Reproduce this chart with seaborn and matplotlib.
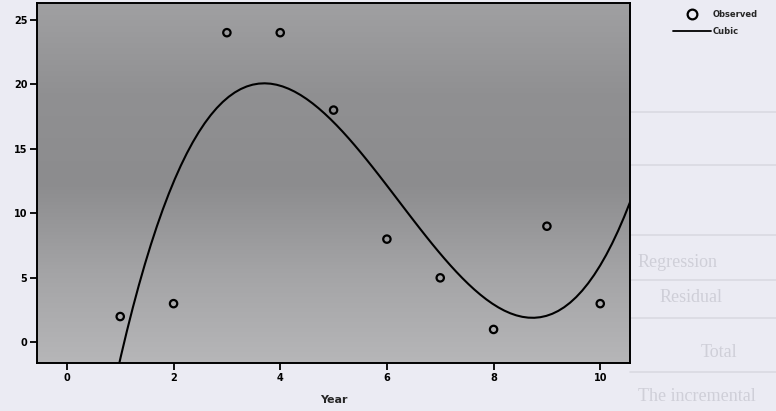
import numpy as np
import pandas as pd
import matplotlib
matplotlib.use("Agg")
import matplotlib.pyplot as plt
from matplotlib.lines import Line2D
from matplotlib.colors import LinearSegmentedColormap
import seaborn as sns

# Data
years = [1, 2, 3, 4, 5, 6, 7, 8, 9, 10]
observed = [2, 3, 24, 24, 18, 8, 5, 1, 9, 3]
x_ticks = [0, 2, 4, 6, 8, 10]
y_ticks = [0, 5, 10, 15, 20, 25]
legend_labels = ["Observed", "Cubic"]
ghost_texts = ["Regression", "Residual", "Total", "The incremental"]

df = pd.DataFrame({"Year": years, "Value": observed})

sns.set_style("ticks")
plt.rcParams["font.family"] = ["DejaVu Sans"]

fig = plt.figure(figsize=(7.76, 4.11), dpi=100, facecolor="#ebebf3")

# faint bleed-through of the printed page behind the chart
ghost_pos = [(0.822, 0.362), (0.85, 0.277), (0.903, 0.143), (0.822, 0.035)]
for txt, (gx, gy) in zip(ghost_texts, ghost_pos):
    fig.text(gx, gy, txt, fontsize=13, color="#cfcfd8",
             family=["Liberation Serif"], va="center", ha="left", zorder=0)
for gy in [0.728, 0.598, 0.428, 0.318, 0.226, 0.095]:
    fig.add_artist(Line2D([0.812, 1.0], [gy, gy], color="#d9d9e2", lw=1.2,
                          transform=fig.transFigure, zorder=0))

ax = fig.add_axes([0.0477, 0.1168, 0.7643, 0.8759])

xlim = (-0.56, 10.56)
ylim = (-1.6, 26.3)
ax.set_xlim(*xlim)
ax.set_ylim(*ylim)

# scanned grey background with darker middle band
cmap = LinearSegmentedColormap.from_list(
    "scan", ["#b6b6b8", "#a4a4a6", "#8c8c8e", "#909092", "#a0a0a2"])
grad = np.linspace(0, 1, 256).reshape(-1, 1)
ax.imshow(grad, cmap=cmap, aspect="auto", extent=[0, 1, 0, 1],
          transform=ax.transAxes, zorder=0, origin="lower")

sns.regplot(data=df, x="Year", y="Value", order=3, ci=None, scatter=False,
            truncate=False, ax=ax, line_kws={"color": "black", "lw": 1.5})
sns.scatterplot(data=df, x="Year", y="Value", ax=ax, s=28, marker="o",
                facecolors="none", edgecolor="black", linewidth=1.6, zorder=5)

ax.set_xlim(*xlim)
ax.set_ylim(*ylim)
ax.set_xticks(x_ticks)
ax.set_yticks(y_ticks)
ax.set_xticklabels([str(t) for t in x_ticks], fontsize=7, fontweight="bold")
ax.set_yticklabels([str(t) for t in y_ticks], fontsize=7, fontweight="bold")
ax.tick_params(axis="both", direction="out", length=5, width=1.3, pad=2, colors="black")
ax.set_xlabel("Year", fontsize=8, fontweight="bold", labelpad=9)
ax.set_ylabel("")
for sp in ax.spines.values():
    sp.set_visible(True)
    sp.set_linewidth(1.4)
    sp.set_color("black")

handles = [
    Line2D([], [], marker="o", ls="none", markerfacecolor="none",
           markeredgecolor="black", markeredgewidth=1.6, markersize=7),
    Line2D([], [], color="black", lw=1.3),
]
leg = fig.legend(handles, legend_labels, loc="upper left",
                 bbox_to_anchor=(0.857, 0.993), frameon=False,
                 prop={"size": 6, "weight": "bold"}, handlelength=4.6,
                 handletextpad=0.2, labelspacing=0.9)

fig.savefig("out.png", dpi=100, facecolor=fig.get_facecolor())
